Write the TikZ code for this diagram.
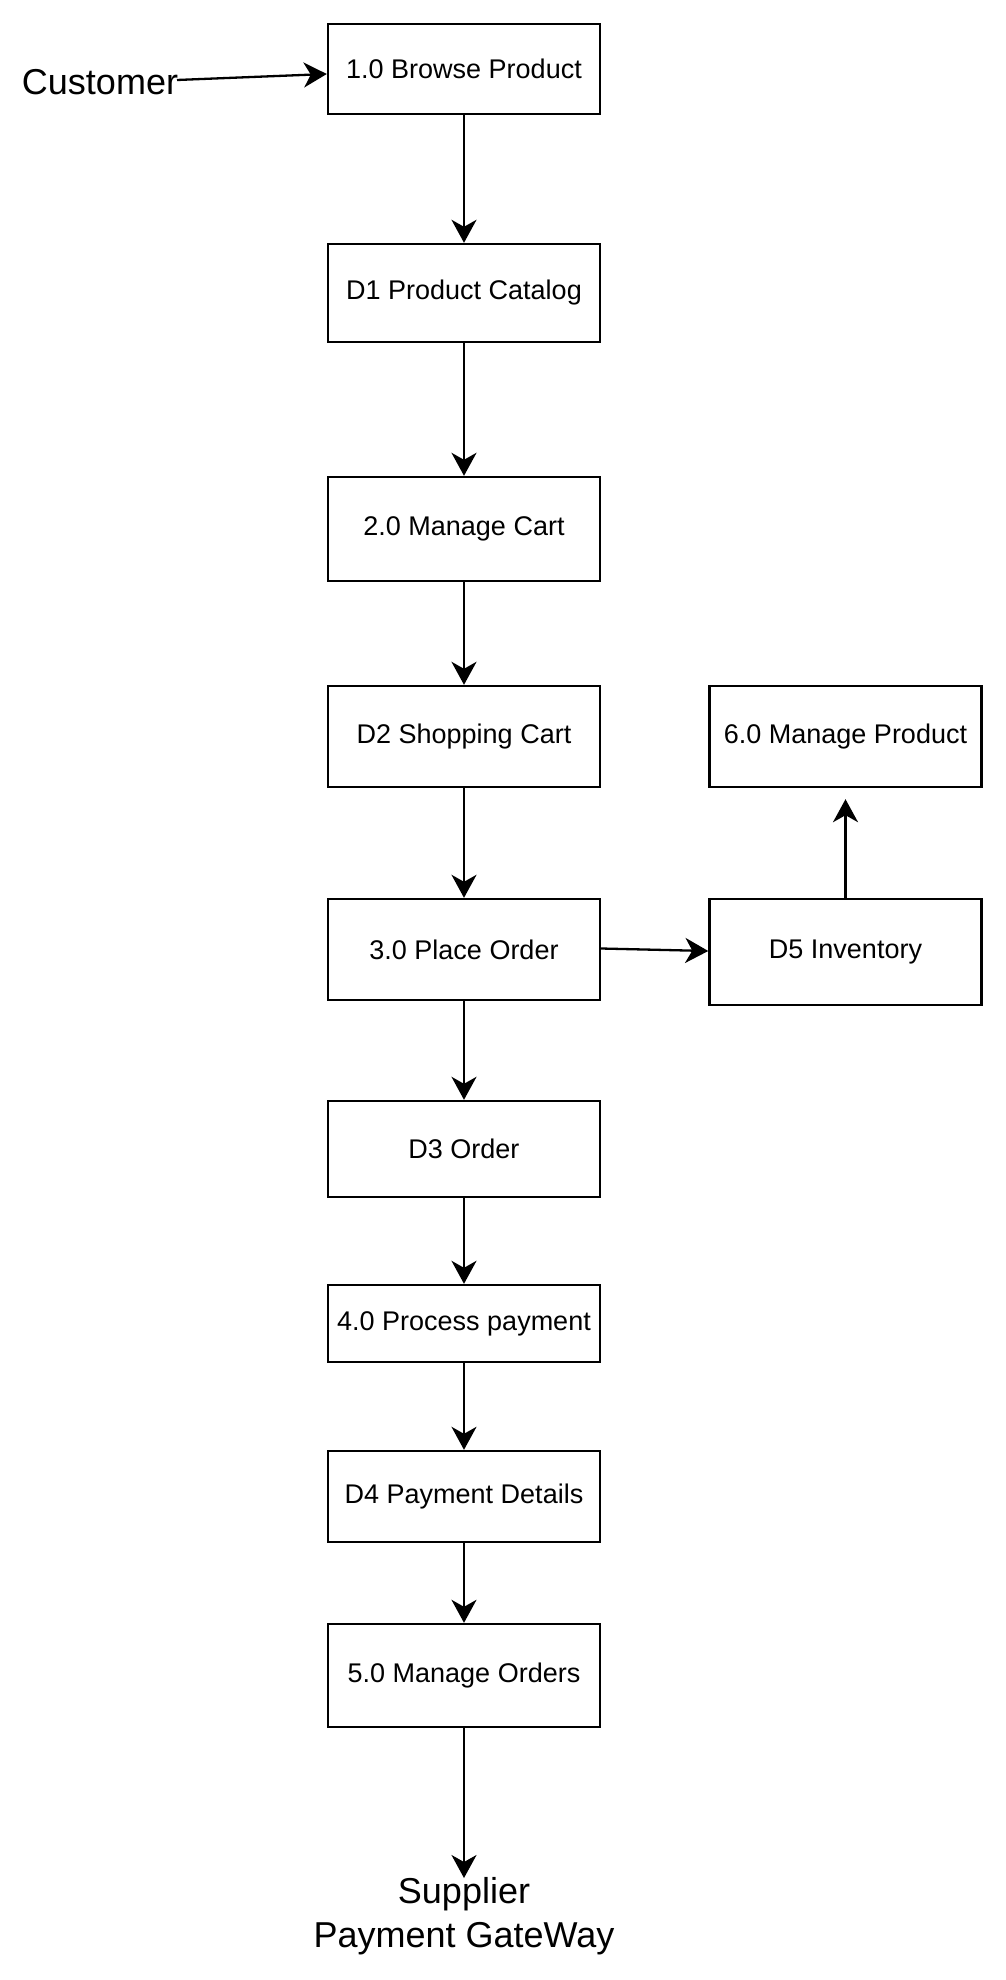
\documentclass[tikz,border=0pt]{standalone}
\usepackage{fontspec}
\setmainfont{Liberation Sans}
\usetikzlibrary{arrows.meta}
\begin{document}
\begin{tikzpicture}[x=1pt,y=-1pt,
  box/.style={draw=black,line width=2.4pt,minimum width=272pt,inner sep=0pt,font=\fontsize{27}{32}\selectfont,fill=white},
  lbl/.style={inner sep=0pt,font=\fontsize{36}{44}\selectfont,align=center},
  flow/.style={line width=2.3pt,-{Stealth[length=23pt,width=25pt,inset=7pt]}}]
\useasboundingbox[fill=white] (0,0) rectangle (1005,1980);
\node[box,minimum height=90pt]  (b1) at (464,69)   {1.0 Browse Product};
\node[box,minimum height=98pt]  (d1) at (464,293)  {D1 Product Catalog};
\node[box,minimum height=104pt] (b2) at (464,529)  {2.0 Manage Cart};
\node[box,minimum height=101pt] (d2) at (464,736.5){D2 Shopping Cart};
\node[box,minimum height=101pt] (b3) at (464,949.5){3.0 Place Order};
\node[box,minimum height=96pt]  (d3) at (464,1149) {D3 Order};
\node[box,minimum height=77pt]  (b4) at (464,1323.5){4.0 Process payment};
\node[box,minimum height=91pt]  (d4) at (464,1496.5){D4 Payment Details};
\node[box,minimum height=103pt] (b5) at (464,1675.5){5.0 Manage Orders};
\node[box,minimum height=101pt] (p6) at (845.5,736.5){6.0 Manage Product};
\node[box,minimum height=106pt] (d5) at (845.5,952){D5 Inventory};
\node[lbl] (cust) at (100,82) {Customer};
\node[lbl] (sup) at (464,1916) {Supplier\\Payment GateWay};
\coordinate (cs) at (177,80);
\coordinate (se) at (464,1878);
\draw[flow] (cs) -- ([yshift=-5pt]b1.west);
\draw[flow] (b1) -- (d1);
\draw[flow] (d1) -- (b2);
\draw[flow] (b2) -- (d2);
\draw[flow] (d2) -- (b3);
\draw[flow] (b3) -- (d3);
\draw[flow] (d3) -- (b4);
\draw[flow] (b4) -- (d4);
\draw[flow] (d4) -- (b5);
\draw[flow] (b5.south) -- (se);
\draw[flow] ([yshift=1pt]b3.east) -- ([yshift=1pt]d5.west);
\draw[flow,shorten >=11pt] (d5.north) -- (p6.south);
\end{tikzpicture}
\end{document}
